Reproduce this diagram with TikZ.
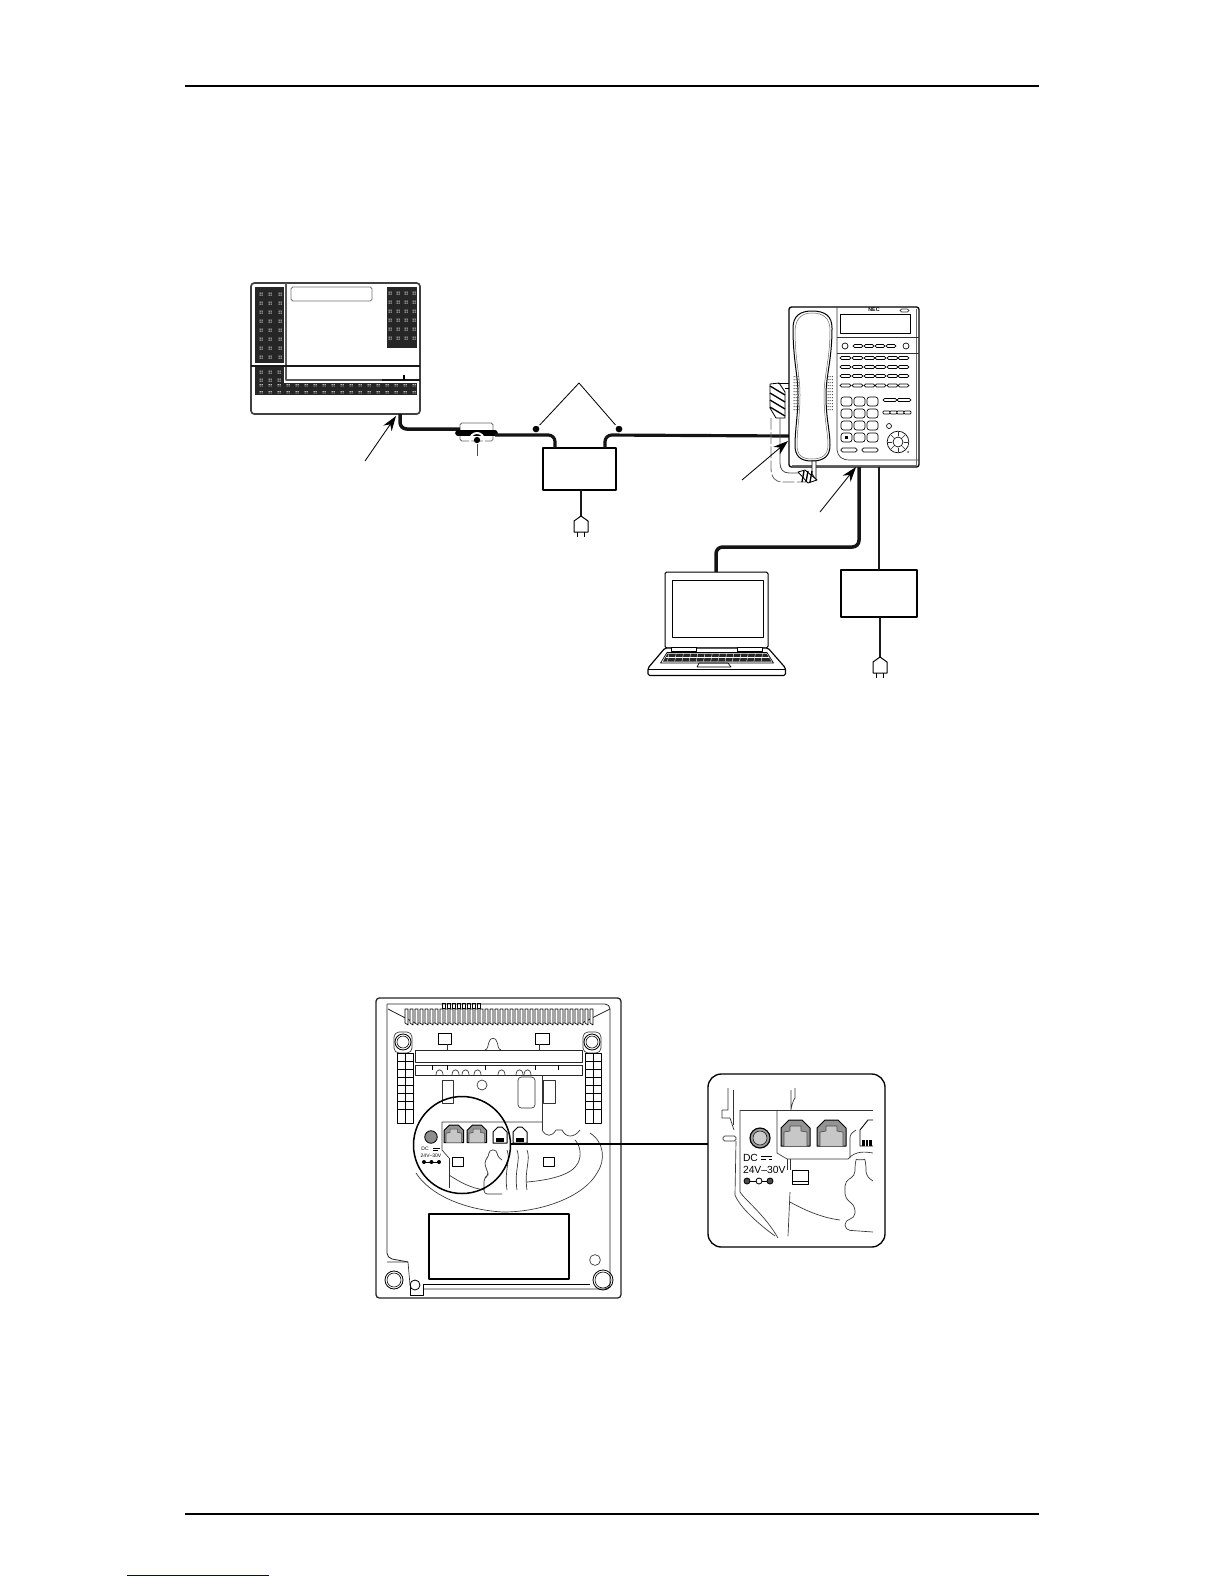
\documentclass[tikz,border=0pt]{standalone}
\usepackage{fontspec}
\setmainfont{Liberation Sans}
\usetikzlibrary{arrows.meta, positioning}

\begin{document}
\begin{tikzpicture}[
    x=0.6pt, y=-0.6pt,
    line join=round,
    pxsize/.style 2 args={minimum width=#1*0.6pt, minimum height=#2*0.6pt},
    plainbox/.style={rectangle, draw=black, line width=0.8pt, inner sep=0pt, outer sep=0pt, fill=white},
    lbl/.style={inner sep=0pt, outer sep=0pt, font=\fontsize{#1}{#1}\selectfont},
    thin line/.style={line width=0.6pt, black!85},
    fine/.style={line width=0.4pt, black!80},
    cable/.style={line width=2.1pt, black!92, rounded corners=4pt},
    cablethin/.style={line width=1.9pt, black!92, rounded corners=4pt},
    cordline/.style={line width=0.9pt, black!90},
    arr/.style={-{Stealth[length=9pt, width=6pt]}, line width=0.5pt},
    dotnode/.style={circle, fill=black, inner sep=0pt, minimum size=4pt},
    key/.style={draw=black, line width=0.4pt, rounded corners=0.8pt, fill=white},
    gridwhite/.style={white},
    plugpic/.pic={
        \draw[line width=0.6pt, fill=white] (-7,16) -- (-7,5) -- (0,0) -- (7,5) -- (7,16) -- cycle;
        \draw[line width=0.5pt] (-3.5,16) -- (-3.5,21) (3.5,16) -- (3.5,21);
    },
    rjbig/.pic={
        \draw[line width=0.6pt, fill=black!42] (0,26) -- (0,8) -- (8,0) -- (21,0) -- (29,8) -- (29,26) -- cycle;
        \draw[line width=0.4pt, black!70, fill=black!22] (3,26) -- (3,12) -- (9,11) -- (9,6) -- (20,6) -- (20,11) -- (26,12) -- (26,26);
    },
    rjsmall/.pic={
        \draw[line width=0.6pt, fill=white] (0,16) -- (0,5) -- (5,0) -- (9,0) -- (14,5) -- (14,16) -- cycle;
        \fill[black] (3,11) rectangle (11,15);
    },
]
\useasboundingbox (0,0) rectangle (1224,1584);

% ── Page rules ──
\coordinate (ruleTL) at (185,86);
\coordinate (ruleTR) at (1039,86);
\coordinate (ruleBL) at (185,1514);
\coordinate (ruleBR) at (1039,1514);
\coordinate (linkL) at (127,1575);
\coordinate (linkR) at (269,1575);
\draw[line width=1.1pt, black] (ruleTL) -- (ruleTR);
\draw[line width=1.1pt, black] (ruleBL) -- (ruleBR);
\draw[line width=0.6pt, blue!50!black] (linkL) -- (linkR);

% ── Cabinet ──
\node[plainbox, draw=black!75, line width=1pt, rounded corners=2pt, pxsize={169}{131}] (ksu) at (335.5,348.5) {};
\fill[black!85] (255,287) rectangle (284,363);
\fill[black!85] (387,287) rectangle (417,348);
\fill[black!85] (255,367) rectangle (284,383);
\fill[black!85] (255,383) rectangle (417,395);
\foreach \gx in {261,270,280} \foreach \gy in {294,303,...,360} {
    \fill[gridwhite] (\gx-1.5,\gy-1.5) rectangle +(1,1) (\gx+0.5,\gy-1.5) rectangle +(1,1) (\gx-1.5,\gy+0.5) rectangle +(1,1) (\gx+0.5,\gy+0.5) rectangle +(1,1);
}
\foreach \gx in {390,398,406,414} \foreach \gy in {293,302,...,345} {
    \fill[gridwhite] (\gx-1.5,\gy-1.5) rectangle +(1,1) (\gx+0.5,\gy-1.5) rectangle +(1,1) (\gx-1.5,\gy+0.5) rectangle +(1,1) (\gx+0.5,\gy+0.5) rectangle +(1,1);
}
\foreach \gx in {261,270,279,...,414} \foreach \gy in {385,392} {
    \fill[gridwhite] (\gx-1.5,\gy-1) rectangle +(1,0.9) (\gx+0.5,\gy-1) rectangle +(1,0.9) (\gx-1.5,\gy+0.5) rectangle +(1,0.9) (\gx+0.5,\gy+0.5) rectangle +(1,0.9);
}
\foreach \gx in {261,270,279} \foreach \gy in {372,380} {
    \fill[gridwhite] (\gx-1.5,\gy-1.5) rectangle +(1,1) (\gx+0.5,\gy-1.5) rectangle +(1,1) (\gx-1.5,\gy+0.5) rectangle +(1,1) (\gx+0.5,\gy+0.5) rectangle +(1,1);
}
\node[plainbox, draw=black!55, line width=0.5pt, rounded corners=1pt, pxsize={81}{14}] (ksutag) at (331.5,294) {};
\draw[line width=1pt, black!65] (286,283) -- (286,380) -- (382,380);
\draw[line width=0.7pt, black!90] (382,380) -- (420,380);
\draw[line width=0.7pt, black!90] (251,366) -- (420,366);
\draw[line width=1.4pt, black] (404,375) -- (404,380);

% ── Line from cabinet to phone ──
\coordinate (ksuport) at (400,414);
\coordinate (ferritein) at (460,429);
\node[plainbox, draw=black!60, line width=0.5pt, rounded corners=1pt, pxsize={33}{18}] (ferrite) at (476.5,432) {};
\coordinate (barL) at (458,433);
\coordinate (barR) at (495,433);
\coordinate (ferriteout) at (495,435);
\node[plainbox, pxsize={73}{42}] (adpA) at (579.5,469) {};
\coordinate (adpAin) at (555,448);
\coordinate (adpAout) at (605,448);
\coordinate (phonein) at (789,436);
\draw[cable] (ksuport) -- (400,429) -- (ferritein);
\draw[line width=3.4pt, black, line cap=round] (barL) -- (barR);
\draw[cablethin] (ferriteout) -- (555,435) -- (adpAin);
\draw[cablethin] (adpAout) -- (605,435) -- (phonein);

% ── Ferrite pointer ──
\node[dotnode, minimum size=3.8pt] (ferritedot) at (477,440) {};
\coordinate (ferritelbl) at (477,456);
\draw[white, line width=1.2pt] (477,440) circle (7);
\draw[line width=0.5pt, black!70] (ferritedot) -- (ferritelbl);

% ── Pointer pair over the adapter ──
\node[dotnode] (dotL) at (536,429) {};
\node[dotnode] (dotR) at (619,429) {};
\coordinate (apex) at (579,383);
\draw[line width=0.5pt] (dotL) -- (apex) -- (dotR);
\draw[white, line width=0.9pt] (529,432) arc[start angle=180, end angle=360, radius=7];
\draw[white, line width=0.9pt] (612,432) arc[start angle=180, end angle=360, radius=7];

% ── Plug of the first adapter ──
\coordinate (plugA) at (581,516);
\draw[cordline] (adpA.south -| plugA) -- (plugA);
\pic at (plugA) {plugpic};

% ── Cabinet arrow ──
\coordinate (arrksu) at (365,461);
\coordinate (tipksu) at (396,416);
\draw[arr] (arrksu) -- (tipksu);

% ── Phone body ──
\node[plainbox, line width=0.8pt, rounded corners=1.5pt, pxsize={130}{160}] (phone) at (854,387) {};
\draw[fine] (837,307) -- (837,450) .. controls (838,457) and (842,460) .. (850,460) -- (919,460);
\draw[fine, black!60] (916,309) -- (916,465) -- (792,465);
\draw[fine] (837,337) -- (919,337);
\draw[fine] (837,353) -- (919,353);
\node[plainbox, line width=0.5pt, pxsize={70}{19}] (display) at (875,323.5) {};
\node[lbl=3.2, font=\fontsize{3.2}{3.2}\selectfont\bfseries] (neclogo) at (874,310) {NEC};
\draw[fine, rounded corners=1pt] (900,309) rectangle (909,312);

% ── Phone keys ──
\node[circle, draw, line width=0.4pt, inner sep=0pt, minimum size=3.6pt] (softL) at (845,346) {};
\node[circle, draw, line width=0.4pt, inner sep=0pt, minimum size=3.6pt] (softR) at (906,346) {};
\foreach \kx in {853,864,875,886} \draw[key, rounded corners=1pt] (\kx,344.5) rectangle +(10,3);
\foreach \ky in {356.5,365.5,374.5,384} \foreach \kx in {840,852,864,875,887,898}
    \draw[key, rounded corners=1pt] (\kx,\ky) rectangle +(11,3);
\foreach \ky in {397,409,421,433} \foreach \kx in {841,854,867}
    \draw[key, rounded corners=1.5pt] (\kx,\ky) rectangle +(11,9);
\fill[black] (845,436) rectangle (848,439);
\draw[key, rounded corners=1pt] (883,398.5) rectangle +(14,3);
\draw[key, rounded corners=1pt] (897,398.5) rectangle +(14,3);
\foreach \kx in {883,890,897,904} \draw[key, rounded corners=0.5pt] (\kx,411) rectangle +(7,3);
\node[circle, draw, line width=0.4pt, inner sep=0pt, minimum size=3pt] (holdkey) at (889,426) {};
\node[circle, draw, line width=0.4pt, inner sep=0pt, minimum size=13pt] (navout) at (898,442) {};
\node[circle, draw, line width=0.4pt, inner sep=0pt, minimum size=6pt] (navin) at (898,442) {};
\foreach \na in {0,45,...,315} \draw[fine] (898,442) ++(\na:6) -- ++(\na:4);
\draw[key, rounded corners=1pt] (841,448) rectangle +(16,4);
\draw[key, rounded corners=1pt] (862,448) rectangle +(16,4);
\fill[black!70] (908,452) circle (1);

% ── Handset ──
\draw[line width=0.6pt, fill=white] (793,328) .. controls (793,316) and (800,311) .. (812,311)
    .. controls (825,311) and (832,316) .. (832,328)
    .. controls (832,360) and (826,375) .. (826,395)
    .. controls (826,420) and (830,430) .. (830,445)
    .. controls (830,456) and (824,461) .. (812,461)
    .. controls (800,461) and (795,456) .. (795,445)
    .. controls (795,430) and (798,415) .. (798,395)
    .. controls (798,375) and (793,360) .. cycle;
\draw[line width=0.3pt, black!60] (795,330) .. controls (796,318) and (802,313) .. (812,313)
    .. controls (823,313) and (830,318) .. (830,330)
    .. controls (830,360) and (824,375) .. (824,395)
    .. controls (824,420) and (828,432) .. (828,445)
    .. controls (828,455) and (822,459) .. (812,459)
    .. controls (802,459) and (797,455) .. (797,445)
    .. controls (797,430) and (800,415) .. (800,395)
    .. controls (800,375) and (795,360) .. (795,330);
\foreach \sy in {376,379,...,409} {
    \fill[black!70] (793.5,\sy) rectangle +(1,1) (795.7,\sy) rectangle +(1,1) (797.6,\sy) rectangle +(1,1);
    \fill[black!70] (827.5,\sy) rectangle +(1,1) (829.7,\sy) rectangle +(1,1) (831.9,\sy) rectangle +(1,1);
}

% ── Coiled cord ──
\draw[line width=0.5pt, fill=white] (770,384) -- (779,383) -- (785,392) -- (785,418) -- (776,418) -- (770,408) -- cycle;
\foreach \cy in {386,393,400,407} \draw[line width=0.8pt] (770,\cy) -- (785,\cy+9);
\draw[line width=0.6pt] (778,383) -- (789,383) (785,388) -- (789,388);
\draw[line width=0.5pt, dash pattern=on 7pt off 1.5pt, black!60] (771,418) -- (771,468) .. controls (771,477) and (775,482) .. (782,482) -- (810,482);
\draw[line width=0.5pt, black!70] (780,418) -- (780,463) .. controls (780,469) and (783,473) .. (789,473) -- (799,473);
\draw[line width=0.5pt, fill=white] (812,461) -- (816,461) -- (816,480) -- (812,474) -- cycle;
\draw[line width=0.5pt, fill=white] (798,472) -- (805,470) -- (817,480) -- (808,483) -- cycle;
\foreach \cx in {802,806,810} \draw[line width=0.8pt] (\cx,482) -- (\cx+2,471);

% ── Phone arrows ──
\coordinate (arrphone) at (742,480);
\coordinate (tipphone) at (788,441);
\draw[arr] (arrphone) -- (tipphone);
\coordinate (arrpc) at (820,512);
\coordinate (tippc) at (856,467);
\draw[arr] (arrpc) -- (tippc);

% ── PC and second adapter ──
\node[plainbox, line width=0.6pt, rounded corners=1pt, pxsize={103}{76}] (lid) at (716.5,610) {};
\node[plainbox, line width=0.6pt, pxsize={91}{57}] (screen) at (717.5,608.5) {};
\coordinate (pcport) at (716,572);
\coordinate (phonepc) at (859,467);
\draw[cable] (phonepc) -- (859,547) -- (716,547) -- (pcport);
\draw[line width=0.7pt, fill=white, rounded corners=1pt] (665,648) -- (648,668) -- (648,675.5) -- (785.5,675.5) -- (785.5,668) -- (768,648) -- cycle;
\draw[line width=0.6pt] (648,669) -- (785.5,669);
\draw[line width=0.4pt, fill=white] (671,647) rectangle (696,651);
\draw[line width=0.4pt, fill=white] (737,647) rectangle (762,651);
\draw[line width=0.4pt] (667,652.5) -- (767,652.5) -- (773.5,663) -- (660.5,663) -- cycle;
\fill[black!85] (667.5,653.5) -- (766.5,653.5) -- (771.5,661.5) -- (663,661.5) -- cycle;
\foreach \kb in {0,7.2,...,100} \draw[white, line width=0.25pt] (669+\kb,653.5) -- (667.5+\kb,661.5);
\draw[white, line width=0.3pt] (666,657.5) -- (769,657.5);
\draw[line width=0.4pt] (699,663) -- (728,663) -- (731,667) -- (697,667) -- cycle;

\node[plainbox, pxsize={76}{47}] (adpB) at (879,593.5) {};
\coordinate (phonepwr) at (879,467);
\draw[cordline] (phonepwr) -- (adpB.north -| phonepwr);
\coordinate (plugB) at (880,657);
\draw[line width=1pt, black!90] (adpB.south -| plugB) -- (plugB);
\pic at (plugB) {plugpic};

% ── Underside of the phone ──
\node[plainbox, draw=black!85, line width=0.8pt, rounded corners=2pt, pxsize={245}{300}] (base) at (498.5,1148) {};
\draw[thin line, line width=0.5pt, rounded corners=3pt] (387,1004) -- (610,1004) -- (610,1289) -- (423,1289);
\draw[thin line, line width=0.5pt, rounded corners=3pt] (387,1004) -- (387,1258) -- (408,1262);
\draw[thin line, line width=0.5pt] (388,1009) -- (415,1023) -- (582,1023) -- (610,1009);
\foreach \sx in {405,410,...,590} \draw[line width=0.35pt, fill=white] (\sx,1009) -- (\sx,1023) -- (\sx+3,1025) -- (\sx+3,1009) -- cycle;
\foreach \sx in {442,447,...,477} \draw[line width=0.35pt] (\sx,1003) rectangle +(3,5);
\node[plainbox, line width=0.6pt, pxsize={13}{11}] (tabTL) at (444.5,1038.5) {};
\node[plainbox, line width=0.6pt, pxsize={14}{11}] (tabTR) at (542,1038.5) {};
\draw[fine] (447,1044) -- (447,1050) (539,1044) -- (539,1050);
\draw[fine] (485,1050) .. controls (488,1050) and (488,1044) .. (489,1042) .. controls (490,1037) and (496,1037) .. (497,1042) .. controls (498,1044) and (498,1050) .. (501,1050);
\draw[thin line] (415,1050) -- (582,1050) -- (582,1062) -- (415,1062) -- cycle;
\draw[thin line] (415,1065) -- (582,1065) (415,1065) -- (415,1075) -- (582,1075) -- (582,1065);
\foreach \tx in {432,447,485,535,558} \draw[line width=0.6pt, black] (\tx,1065) -- (\tx,1070);
\foreach \tx in {436,452,462,474,498,516,524} \draw[fine] (\tx,1075) .. controls (\tx,1068) and (\tx+7,1068) .. (\tx+7,1075);
\node[circle, draw, fine, inner sep=0pt, minimum size=6pt] (basehole) at (482,1085) {};
\draw[fine, rounded corners=2pt] (518,1077) rectangle (535,1108);
\draw[fine] (442,1080) rectangle (453,1103);
\draw[fine] (542,1075) -- (542,1130) (543,1080) rectangle (555,1103);

% ── Feet and ladders ──
\foreach \fx/\lx in {403/397, 592/585} {
    \draw[fine, rounded corners=3pt] (\fx-9,1032) rectangle (\fx+9,1053);
    \draw[line width=0.5pt] (\fx,1042) circle (8);
    \draw[line width=0.35pt] (\fx,1042) circle (6);
    \draw[line width=0.4pt, fill=white] (\lx,1053) rectangle (\lx+16,1123);
    \draw[line width=0.3pt] (\lx+8,1053) -- (\lx+8,1123);
    \foreach \ry in {1061,1069,...,1115} \draw[line width=0.3pt] (\lx,\ry) -- (\lx+16,\ry);
}
\foreach \fx/\fy/\fr in {394/1280/9, 603/1280/10} {
    \draw[line width=0.5pt] (\fx,\fy) circle (\fr);
    \draw[line width=0.35pt] (\fx,\fy) circle (\fr-2);
}
\draw[fine] (387,1262) -- (408,1262) -- (410,1285);
\draw[line width=0.5pt] (415,1285) circle (5);
\draw[line width=0.5pt] (410,1285) -- (410,1295) -- (423,1295) -- (423,1284);
\draw[line width=0.5pt] (423,1284) -- (590,1284);
\node[circle, draw, fine, inner sep=0pt, minimum size=6.5pt] (basehole2) at (595,1260) {};
\node[plainbox, line width=0.7pt, pxsize={140}{65}] (baselabel) at (499,1246.5) {};

% ── Wall-mount swoosh ──
\draw[fine] (416,1173) .. controls (430,1195) and (465,1210) .. (503,1212) .. controls (545,1212) and (585,1195) .. (597,1173) .. controls (606,1160) and (604,1142) .. (590,1133);
\draw[fine] (449,1175) .. controls (460,1182) and (470,1188) .. (485,1190);
\draw[fine] (527,1182) .. controls (550,1180) and (572,1175) .. (578,1163) .. controls (582,1155) and (580,1145) .. (575,1140);
\draw[fine] (542,1130) .. controls (546,1137) and (552,1137) .. (556,1130) -- (562,1130) .. controls (566,1138) and (574,1138) .. (580,1130);
\foreach \chx in {507,517,527} \draw[fine] (\chx,1150) .. controls (\chx+4,1160) and (\chx-3,1170) .. (\chx,1190);
\draw[fine] (449,1158) -- (449,1188);
\draw[fine] (442,1122) -- (542,1122) (442,1122) -- (442,1150) -- (449,1158);

% ── Rear jacks (main view) ──
\draw[fine, rounded corners=2pt] (502,1194) -- (484,1194) -- (484,1178) -- (488,1176) -- (488,1172) -- (485,1166) -- (485,1160) -- (489,1156) -- (489,1150) -- (497,1150) -- (497,1156) -- (502,1160);
\node[plainbox, line width=0.5pt, pxsize={11}{9}] (tabBL) at (457.5,1161.5) {};
\node[plainbox, line width=0.5pt, pxsize={11}{9}] (tabBR) at (548.5,1161.5) {};
\node[circle, draw=black, line width=0.5pt, fill=black!45, inner sep=0pt, minimum size=7.5pt] (dcjack) at (431,1137) {};
\pic[scale=0.68] at (444,1125) {rjbig};
\pic[scale=0.68] at (467,1125) {rjbig};
\pic at (493,1127) {rjsmall};
\pic at (513,1127) {rjsmall};
\node[lbl=3] (dcsmall) at (425,1149) {DC};
\draw[line width=0.3pt] (433,1148) -- (440,1148);
\draw[line width=0.3pt, densely dashed] (433,1150) -- (440,1150);
\node[lbl=3] (vsmall) at (431,1156) {24V--30V};
\draw[line width=0.35pt] (424,1162) -- (439,1162);
\foreach \px in {424,431.5,439} \fill[black] (\px,1162) circle (2);
\node[circle, draw=black, line width=0.9pt, inner sep=0pt, minimum size=58.2pt] (zoomcircle) at (462,1145) {};

% ── Inset ──
\node[plainbox, line width=0.8pt, rounded corners=8pt, pxsize={177}{173}] (inset) at (796.5,1160.5) {};
\coordinate (insetsrc) at (510,1144);
\coordinate (insetdst) at (708,1144);
\draw[line width=1.2pt] (insetsrc) -- (insetdst);
\draw[fine] (740,1110) -- (873,1110);
\draw[fine] (740,1110) -- (740,1192) .. controls (745,1200) and (765,1215) .. (778,1238);
\draw[fine] (777,1110) -- (777,1153) -- (787,1159) -- (848,1159);
\draw[fine] (787,1159) -- (787,1170) (790,1159) -- (790,1170);
\draw[fine] (790,1202) .. controls (810,1213) and (825,1218) .. (840,1220);
\draw[fine] (790,1192) -- (788,1236);
\draw[fine] (791,1090) -- (791,1110) .. controls (791,1108) and (793,1100) .. (795,1098) -- (795,1088);
\draw[fine] (728,1088) -- (728,1110) -- (722,1110) (722,1110) -- (722,1118) -- (730,1118) -- (734,1130);
\draw[fine] (733,1090) -- (733,1125);
\draw[fine, rounded corners=1pt] (723,1136) rectangle (736,1141);
\draw[fine] (736,1141) -- (735,1195) .. controls (740,1208) and (760,1225) .. (775,1236);
\draw[line width=0.7pt, fill=black!40] (760,1138) circle (10);
\draw[line width=0.3pt, fill=black!20] (760,1138) circle (7);
\pic at (781,1120) {rjbig};
\pic at (817,1120) {rjbig};
\draw[fine] (850,1158) -- (850,1137) .. controls (851,1133) and (853,1132) .. (856,1130);
\draw[fine] (848,1159) .. controls (856,1150) and (866,1152) .. (873,1153);
\draw[line width=0.5pt] (873,1120) -- (868,1120) -- (860,1130) -- (860,1146) -- (873,1146);
\fill[black] (862,1140) rectangle (872,1146);
\foreach \ix in {865,868} \fill[white] (\ix,1140) rectangle +(1,6);
\node[plainbox, line width=0.6pt, pxsize={16}{14}] (insettab) at (800,1177) {};
\draw[line width=0.5pt] (792,1181) -- (808,1181);
\draw[fine, rounded corners=3pt] (873,1181) -- (866,1176) -- (866,1164) .. controls (865,1160) and (856,1160) .. (855,1164) -- (855,1176) -- (845,1181) -- (845,1198) -- (855,1206) -- (855,1218) -- (845,1220) -- (845,1230) -- (873,1232);
\node[lbl=6.2, anchor=west] (dclabel) at (743,1158) {DC};
\draw[line width=0.4pt] (761,1156.5) -- (772,1156.5);
\draw[line width=0.4pt, densely dashed] (761,1159.5) -- (772,1159.5);
\node[lbl=6.2, anchor=west] (vlabel) at (743,1170) {24V--30V};
\draw[line width=0.5pt] (747,1181) -- (770,1181);
\foreach \pz/\pf in {747/black!70, 759/white, 770/black!70} \draw[line width=0.5pt, fill=\pf] (\pz,1181) circle (3);
\end{tikzpicture}
\end{document}
